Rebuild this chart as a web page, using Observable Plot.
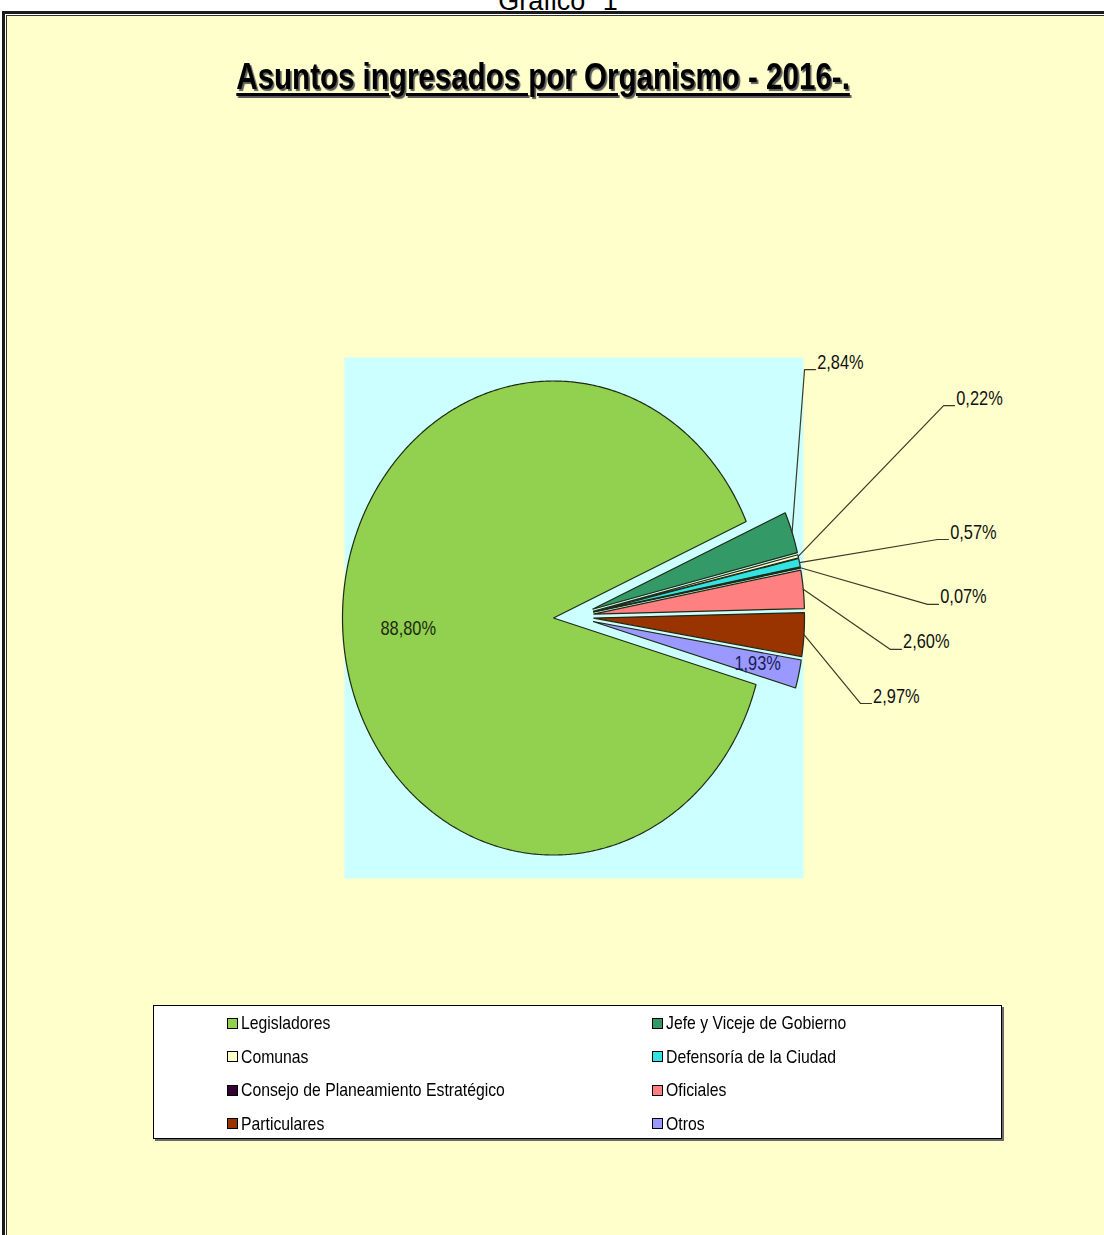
<!DOCTYPE html>
<html>
<head>
<meta charset="utf-8">
<script src="https://cdn.jsdelivr.net/npm/d3@7"></script>
<script src="https://cdn.jsdelivr.net/npm/@observablehq/plot@0.6"></script>
<style>
  html, body { margin: 0; padding: 0; }
  body { width: 1104px; height: 1235px; position: relative; overflow: hidden; background: #ffffff;
         font-family: "Liberation Sans", Arial, sans-serif; }
  #caption { position: absolute; left: 0; width: 1116px; top: -12px; text-align: center;
             font-family: "Liberation Sans", Arial, sans-serif; font-size: 27px; line-height: 27px;
             text-decoration: underline; word-spacing: 10px; color: #000; }
  #frame { position: absolute; left: 2px; top: 11px; width: 1200px; height: 1300px; box-sizing: border-box;
           border: 3px solid #1a1a1a; background: #FFFFCC;
           box-shadow: inset 0 0 0 1px #ffffff, inset 0 0 0 2px #333333; }
  #title { position: absolute; left: 0; width: 1086px; top: 59px; text-align: center;
           font-family: "Liberation Sans", Arial, sans-serif; font-weight: bold;
           font-size: 36px; line-height: 36px; color: #000; }
  #title span { display: inline-block; transform: scaleX(0.82); transform-origin: 50% 50%;
           text-decoration: underline; text-decoration-thickness: 3px; text-underline-offset: 4px;
           text-shadow: 2px 2px 1px #5a5a5a; white-space: nowrap; }
  #chart { position: absolute; left: 0; top: 0; }
  #legend { position: absolute; left: 153px; top: 1005px; width: 849px; height: 134px; box-sizing: border-box;
            background: #ffffff; border: 1px solid #000; box-shadow: 2px 2px 0 #6a6a6a; }
  .item { position: absolute; height: 20px; display: flex; align-items: center; white-space: nowrap;
          font-family: "Liberation Sans", Arial, sans-serif; font-size: 19px; color: #000; }
  .item .tx { display: inline-block; transform: scaleX(0.83); transform-origin: 0 50%; }
  .sw { width: 9px; height: 9px; border: 1px solid #000; margin-right: 3px; flex: none; }
</style>
</head>
<body>
<div id="caption">Gráfico 1</div>
<div id="frame"></div>
<div id="title"><span>Asuntos ingresados por Organismo - 2016-.</span></div>
<div id="chart"></div>
<div id="legend"></div>
<script>
// ---- data ----
const categories = ["Legisladores", "Jefe y Viceje de Gobierno", "Comunas", "Defensoría de la Ciudad",
  "Consejo de Planeamiento Estratégico", "Oficiales", "Particulares", "Otros"];
const shares = [88.80, 2.84, 0.22, 0.57, 0.07, 2.60, 2.97, 1.93];
const percentLabels = ["88,80%", "2,84%", "0,22%", "0,57%", "0,07%", "2,60%", "2,97%", "1,93%"];
const sliceColors = ["#92D050", "#339966", "#FFFFCC", "#33E3E3", "#330033", "#FF8080", "#993300", "#9999FF"];

// ---- layout of the pie (angles in degrees, distances in radii) ----
const rotationDeg = 106.3;     // where the first slice starts, clockwise from 12 o'clock
const explode = 0.095;         // every slice pulled out by this share of the radius
// label placement: inside at a share of the radius along the slice bisector,
// or a callout whose elbow sits at [dx, dy] radii from the pie centre
const labelPlacement = [
  {inside: 0.69}, {callout: [1.095, 1.042]}, {callout: [1.754, 0.890]}, {callout: [1.725, 0.325]},
  {callout: [1.678, 0.051]}, {callout: [1.502, -0.139]}, {callout: [1.360, -0.367]}, {inside: 0.80}
];

const rows = categories.map((name, i) => ({name, share: shares[i], label: percentLabels[i], color: sliceColors[i], i}));
const rot = rotationDeg * Math.PI / 180;
const arcs = d3.pie().sort(null).value(d => d.share).startAngle(rot).endAngle(rot + 2 * Math.PI)(rows);

const slicePts = [];
const leaderPts = [];
const outsideText = [];
const insideText = [];
const step = 0.5 * Math.PI / 180;
arcs.forEach(a => {
  const mid = (a.startAngle + a.endAngle) / 2;
  const ox = explode * Math.sin(mid), oy = explode * Math.cos(mid);
  slicePts.push({name: a.data.name, x: ox, y: oy});
  const n = Math.max(1, Math.ceil((a.endAngle - a.startAngle) / step));
  for (let k = 0; k <= n; k++) {
    const t = a.startAngle + (a.endAngle - a.startAngle) * k / n;
    slicePts.push({name: a.data.name, x: ox + Math.sin(t), y: oy + Math.cos(t)});
  }
  const p = labelPlacement[a.data.i];
  if (p.inside !== undefined) {
    insideText.push({x: ox + p.inside * Math.sin(mid), y: oy + p.inside * Math.cos(mid), text: a.data.label,
                     fill: a.data.i === 0 ? "#1e2a12" : "#1c1c5a"});
  } else {
    const sx = ox + Math.sin(mid), sy = oy + Math.cos(mid);
    const [ex, ey] = p.callout;
    const hx = ex + 0.052;
    leaderPts.push({id: a.data.i, x: sx, y: sy}, {id: a.data.i, x: ex, y: ey}, {id: a.data.i, x: hx, y: ey});
    outsideText.push({x: hx + 0.008, y: ey + 0.004, text: a.data.label});
  }
});

const font = "'Liberation Sans', Arial, sans-serif";
const chart = Plot.plot({
  width: 1104,
  height: 900,
  marginTop: 357, marginLeft: 344, marginRight: 301, marginBottom: 22,
  x: {domain: [-229 / 211, 230 / 211], axis: null},
  y: {domain: [-262 / 237, 259 / 237], axis: null},
  color: {domain: categories, range: sliceColors},
  style: {background: "transparent", overflow: "visible"},
  marks: [
    Plot.frame({fill: "#CCFFFF", stroke: null}),
    Plot.line(slicePts, {x: "x", y: "y", z: "name", fill: "name", stroke: "#1f2a14", strokeWidth: 1.2,
                         curve: "linear-closed", strokeLinejoin: "miter"}),
    Plot.line(leaderPts, {x: "x", y: "y", z: "id", stroke: "#3a3a26", strokeWidth: 1.2}),
    Plot.text(outsideText, {x: "x", y: "y", text: "text", textAnchor: "start", lineAnchor: "bottom",
                            fontSize: 20, fontFamily: font, fill: "#111"}),
    Plot.text(insideText, {x: "x", y: "y", text: "text", textAnchor: "middle", lineAnchor: "middle",
                           fontSize: 20, fontFamily: font, fill: d => d.fill})
  ]
});
document.getElementById("chart").appendChild(chart);

// condense the SVG labels to the narrow face of the original (scale about each label's anchor);
// numeric x/y are folded into the transform, em-based offsets are kept as they are
d3.select(chart).selectAll('g[aria-label="text"] text').each(function() {
  let tx = 0, ty = 0;
  const ax = this.getAttribute("x"), ay = this.getAttribute("y");
  if (ax !== null && !/em$/.test(ax)) { tx = +ax || 0; this.removeAttribute("x"); }
  if (ay !== null && !/em$/.test(ay)) { ty = +ay || 0; this.removeAttribute("y"); }
  const prev = this.getAttribute("transform") || "";
  this.setAttribute("transform", `${prev} translate(${tx},${ty}) scale(0.82,1)`);
});

// ---- legend (two columns, row-major) ----
const legend = document.getElementById("legend");
categories.forEach((name, i) => {
  const col = i % 2, row = Math.floor(i / 2);
  const item = document.createElement("div");
  item.className = "item";
  item.style.left = (col === 0 ? 73 : 498) + "px";
  item.style.top = (7 + row * 33.5) + "px";
  const sw = document.createElement("span");
  sw.className = "sw";
  sw.style.background = sliceColors[i];
  const tx = document.createElement("span");
  tx.className = "tx";
  tx.textContent = name;
  item.appendChild(sw);
  item.appendChild(tx);
  legend.appendChild(item);
});
</script>
</body>
</html>
